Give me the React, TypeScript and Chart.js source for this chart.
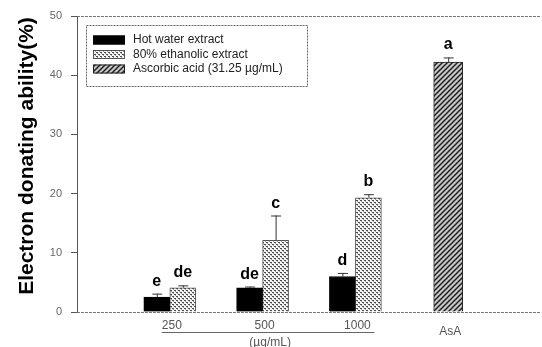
import React, { useEffect, useRef } from "react";
import { Chart, registerables } from "chart.js";

Chart.register(...registerables);

// ---- data ----
const concentrations = ["250", "500", "1000"];
const refLabel = "AsA";
const unitLabel = "(\u00b5g/mL)";
const hotWater = [2.5, 4.1, 6.0];
const hotWaterErr = [0.6, 0.2, 0.6];
const hotWaterLetters = ["e", "de", "d"];
const ethanolic = [4.1, 12.1, 19.3];
const ethanolicErr = [0.4, 4.2, 0.6];
const ethanolicLetters = ["de", "c", "b"];
const ascorbic = [42.2];
const ascorbicErr = [0.8];
const ascorbicLetters = ["a"];
const yTicks = [0, 10, 20, 30, 40, 50];
const seriesNames = ["Hot water extract", "80% ethanolic extract", "Ascorbic acid (31.25 \u00b5g/mL)"];
const yTitle = "Electron donating ability(%)";

// category slots: blank, 250, 500, 1000, AsA, blank
const categories = ["", ...concentrations, refLabel, ""];
const pad = (arr: any[], start: number) => {
  const out: any[] = categories.map(() => null);
  arr.forEach((v, i) => (out[start + i] = v));
  return out;
};

function dotPattern(): CanvasPattern | string {
  const c = document.createElement("canvas");
  c.width = 4;
  c.height = 4;
  const g = c.getContext("2d");
  if (!g) return "#bbb";
  g.fillStyle = "#f6f6f6";
  g.fillRect(0, 0, 4, 4);
  g.fillStyle = "#4a4a4a";
  g.fillRect(0, 0, 2, 1);
  g.fillRect(2, 2, 2, 1);
  g.fillStyle = "#999";
  g.fillRect(1, 1, 1, 1);
  g.fillRect(3, 3, 1, 1);
  return g.createPattern(c, "repeat") || "#bbb";
}

function hatchPattern(): CanvasPattern | string {
  const c = document.createElement("canvas");
  c.width = 5;
  c.height = 5;
  const g = c.getContext("2d");
  if (!g) return "#777";
  g.fillStyle = "#c8c8c8";
  g.fillRect(0, 0, 5, 5);
  g.strokeStyle = "#1e1e1e";
  g.lineWidth = 1.5;
  g.beginPath();
  g.moveTo(-1, 6);
  g.lineTo(6, -1);
  g.stroke();
  g.beginPath();
  g.moveTo(-1, 1);
  g.lineTo(1, -1);
  g.stroke();
  g.beginPath();
  g.moveTo(4, 6);
  g.lineTo(6, 4);
  g.stroke();
  return g.createPattern(c, "repeat") || "#777";
}

export default function App() {
  const ref = useRef<HTMLCanvasElement | null>(null);

  useEffect(() => {
    if (!ref.current) return;
    const dots = dotPattern();
    const hatch = hatchPattern();
    const errs = [pad(hotWaterErr, 1), pad(ethanolicErr, 1), pad(ascorbicErr, 4)];
    const letters = [pad(hotWaterLetters, 1), pad(ethanolicLetters, 1), pad(ascorbicLetters, 4)];

    const overlay = {
      id: "overlay",
      afterDatasetsDraw(chart: any) {
        const { ctx, chartArea, scales } = chart;
        const y = scales.y;
        const x = scales.x;
        ctx.save();
        // top and bottom frame lines
        ctx.strokeStyle = "#777";
        ctx.lineWidth = 1;
        ctx.setLineDash([3, 1]);
        ctx.beginPath();
        ctx.moveTo(chartArea.left, chartArea.top + 0.5);
        ctx.lineTo(chartArea.right, chartArea.top + 0.5);
        ctx.moveTo(chartArea.left, chartArea.bottom + 0.5);
        ctx.lineTo(chartArea.right, chartArea.bottom + 0.5);
        ctx.stroke();
        ctx.setLineDash([]);

        // error bars + letters
        chart.data.datasets.forEach((ds: any, di: number) => {
          const meta = chart.getDatasetMeta(di);
          ds.data.forEach((v: number | null, i: number) => {
            if (v === null || v === undefined) return;
            const bar = meta.data[i];
            const e = errs[di][i] as number;
            const top = y.getPixelForValue(v + e);
            const cx = bar.x;
            ctx.strokeStyle = "#333";
            ctx.lineWidth = 1;
            ctx.beginPath();
            ctx.moveTo(cx + 0.5, bar.y);
            ctx.lineTo(cx + 0.5, top);
            ctx.moveTo(cx - 4.5, top + 0.5);
            ctx.lineTo(cx + 5.5, top + 0.5);
            ctx.stroke();
            const letter = letters[di][i];
            if (letter) {
              ctx.fillStyle = "#000";
              ctx.font = "bold 16px 'Liberation Sans', Arial, sans-serif";
              ctx.textAlign = "center";
              ctx.textBaseline = "alphabetic";
              ctx.fillText(String(letter), cx, top - 8);
            }
          });
        });

        // x labels
        ctx.fillStyle = "#555";
        ctx.font = "12px 'Liberation Sans', Arial, sans-serif";
        ctx.textAlign = "center";
        ctx.textBaseline = "middle";
        concentrations.forEach((lab, i) => {
          ctx.fillText(lab, x.getPixelForValue(i + 1) + 2, chartArea.bottom + 14);
        });
        ctx.fillText(refLabel, x.getPixelForValue(4) + 2, chartArea.bottom + 20);
        const ul0 = x.getPixelForValue(1) - 8;
        const ul1 = x.getPixelForValue(3) + 19;
        ctx.strokeStyle = "#666";
        ctx.beginPath();
        ctx.moveTo(ul0, chartArea.bottom + 20.5);
        ctx.lineTo(ul1, chartArea.bottom + 20.5);
        ctx.stroke();
        ctx.fillText(unitLabel, (ul0 + ul1) / 2 + 2, chartArea.bottom + 31);

        // y title
        ctx.save();
        ctx.translate(27, 156);
        ctx.rotate(-Math.PI / 2);
        ctx.fillStyle = "#000";
        ctx.font = "bold 21px 'Liberation Sans', Arial, sans-serif";
        ctx.textAlign = "center";
        ctx.textBaseline = "middle";
        ctx.fillText(yTitle, 0, 0);
        ctx.restore();

        // legend
        const lx = chartArea.left + 9;
        const ly = chartArea.top + 9;
        const lw = 221;
        const lh = 61;
        ctx.fillStyle = "#fff";
        ctx.fillRect(lx, ly, lw, lh);
        ctx.strokeStyle = "#666";
        ctx.setLineDash([2, 1]);
        ctx.strokeRect(lx + 0.5, ly + 0.5, lw, lh);
        ctx.setLineDash([]);
        const fills = chart.data.datasets.map((d: any) => d.backgroundColor);
        const borders = chart.data.datasets.map((d: any) => d.borderColor);
        seriesNames.forEach((name, i) => {
          const ry = ly + 15 + i * 14.5;
          ctx.fillStyle = fills[i];
          ctx.fillRect(lx + 7, ry - 4.5, 32, 9);
          ctx.strokeStyle = borders[i];
          ctx.strokeRect(lx + 7.5, ry - 4, 31, 8);
          ctx.fillStyle = "#222";
          ctx.font = "12px 'Liberation Sans', Arial, sans-serif";
          ctx.textAlign = "left";
          ctx.textBaseline = "middle";
          ctx.fillText(name, lx + 47, ry);
        });
        ctx.restore();
      },
    };

    const chart = new Chart(ref.current, {
      type: "bar",
      data: {
        labels: categories,
        datasets: [
          {
            label: seriesNames[0],
            data: pad(hotWater, 1),
            backgroundColor: "#000",
            borderColor: "#000",
            borderWidth: 1,
            barThickness: 26,
          },
          {
            label: seriesNames[1],
            data: pad(ethanolic, 1),
            backgroundColor: dots,
            borderColor: "#555",
            borderWidth: 1,
            barThickness: 26,
          },
          {
            label: seriesNames[2],
            data: pad(ascorbic, 4),
            backgroundColor: hatch,
            borderColor: "#222",
            borderWidth: 1,
            barThickness: 29,
          },
        ],
      },
      options: {
        animation: false,
        responsive: false,
        skipNull: true,
        layout: { padding: { left: 15, top: 16, right: 1, bottom: 0 } },
        plugins: { legend: { display: false }, tooltip: { enabled: false } },
        scales: {
          x: {
            type: "category",
            offset: false,
            grid: { display: false, drawTicks: false },
            ticks: { display: false },
            border: { display: false },
            afterFit: (s: any) => {
              s.height = 35;
            },
          },
          y: {
            min: yTicks[0],
            max: yTicks[yTicks.length - 1],
            afterBuildTicks: (s: any) => {
              s.ticks = yTicks.map((v) => ({ value: v }));
            },
            ticks: {
              color: "#666",
              padding: 9,
              font: { family: "'Liberation Sans', Arial, sans-serif", size: 11 },
            },
            grid: { drawOnChartArea: false, drawTicks: true, tickLength: 6, color: "#555" },
            border: { display: true, color: "#555" },
            afterFit: (s: any) => {
              s.width = 62;
            },
          },
        },
      } as any,
      plugins: [overlay],
    });
    return () => chart.destroy();
  }, []);

  return (
    <div style={{ position: "fixed", left: 0, top: 0, width: 542, height: 347, background: "#fff" }}>
      <canvas ref={ref} width={542} height={347} style={{ display: "block", width: 542, height: 347 }} />
    </div>
  );
}
